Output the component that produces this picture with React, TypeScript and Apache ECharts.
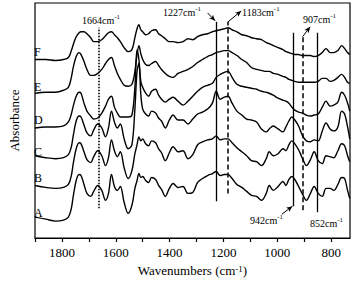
import React, { useEffect, useRef } from "react";
import * as echarts from "echarts";

// Wavenumber grid (cm-1), shared by all spectra
const wavenumbers = [
  1900, 1860, 1824, 1794, 1776, 1765, 1758, 1747, 1736, 1729,
  1718, 1707, 1693, 1682, 1667, 1652, 1638, 1627, 1616, 1605,
  1594, 1583, 1569, 1554, 1540, 1529, 1521, 1514, 1507, 1500,
  1489, 1478, 1467, 1452, 1441, 1430, 1416, 1401, 1387, 1369,
  1350, 1332, 1314, 1296, 1278, 1259, 1241, 1227, 1212, 1197,
  1183, 1168, 1150, 1132, 1114, 1096, 1077, 1059, 1041, 1030,
  1015, 997, 979, 968, 957, 946, 935, 921, 906, 892,
  877, 863, 848, 833, 819, 804, 790, 775, 761, 750,
  739, 731,
];

// Offset absorbance (arbitrary units) of each spectrum
const absA = [
  21, 19, 17, 18, 21, 30, 42, 58, 64, 63,
  54, 45, 42, 47, 53, 48, 38, 45, 64, 52,
  48, 52, 36, 25, 33, 50, 58, 65, 61, 62,
  58, 56, 61, 59, 53, 49, 42, 50, 55, 51,
  52, 45, 46, 56, 60, 63, 65, 67, 63, 64,
  64, 60, 54, 51, 47, 43, 42, 38, 45, 53,
  48, 52, 57, 53, 59, 62, 59, 52, 44, 38,
  45, 52, 45, 42, 50, 50, 48, 54, 61, 60,
  48, 40,
];
const absB = [
  53, 51, 50, 51, 54, 63, 75, 90, 96, 95,
  87, 79, 76, 82, 88, 83, 73, 81, 99, 88,
  82, 87, 71, 60, 68, 85, 94, 102, 98, 100,
  95, 93, 98, 96, 90, 86, 78, 86, 92, 87,
  88, 80, 84, 94, 97, 99, 100, 103, 99, 100,
  100, 96, 91, 87, 83, 78, 77, 73, 80, 87,
  83, 85, 90, 88, 94, 98, 95, 89, 80, 73,
  79, 87, 78, 75, 83, 82, 81, 88, 95, 93,
  83, 77,
];
const absC = [
  83, 81, 80, 81, 84, 92, 103, 118, 123, 122,
  114, 106, 103, 109, 115, 111, 102, 111, 128, 117,
  111, 115, 100, 90, 94, 130, 168, 176, 145, 130,
  125, 123, 128, 126, 121, 118, 111, 119, 124, 119,
  119, 115, 120, 125, 127, 130, 136, 148, 140, 142,
  143, 136, 128, 124, 120, 119, 117, 110, 107, 110,
  113, 110, 107, 112, 118, 122, 119, 113, 103, 98,
  97, 99, 98, 108, 116, 110, 108, 112, 128, 125,
  112, 100,
];
const absD = [
  111, 112, 112, 113, 117, 125, 133, 143, 147, 146,
  136, 128, 123, 120, 121, 126, 133, 140, 143, 132,
  126, 122, 122, 122, 124, 152, 190, 180, 158, 152,
  146, 143, 148, 150, 144, 140, 137, 140, 142, 138,
  134, 138, 143, 148, 152, 154, 156, 162, 165, 167,
  168, 162, 155, 153, 152, 151, 150, 148, 147, 146,
  144, 141, 139, 138, 136, 132, 129, 127, 126, 124,
  123, 124, 125, 132, 138, 133, 134, 137, 147, 144,
  136, 128,
];
const absE = [
  146, 147, 147, 149, 152, 162, 172, 183, 187, 185,
  178, 170, 164, 164, 166, 170, 176, 180, 182, 174,
  166, 160, 154, 153, 155, 168, 185, 194, 186, 180,
  175, 174, 176, 178, 174, 170, 166, 163, 162, 166,
  168, 170, 173, 177, 180, 183, 185, 187, 188, 189,
  189, 187, 184, 180, 177, 172, 170, 169, 168, 168,
  166, 165, 163, 162, 160, 159, 158, 157, 157, 157,
  157, 157, 158, 161, 161, 158, 159, 162, 165, 162,
  157, 156,
];
const absF = [
  180, 180, 179, 180, 182, 189, 195, 203, 207, 208,
  208, 206, 202, 198, 198, 200, 204, 207, 208, 205,
  202, 198, 192, 188, 190, 202, 211, 215, 210, 208,
  205, 206, 209, 210, 206, 204, 201, 198, 198, 197,
  198, 201, 200, 203, 205, 206, 208, 209, 210, 211,
  212, 210, 208, 205, 204, 202, 201, 200, 197, 196,
  194, 192, 190, 188, 187, 186, 185, 185, 184, 184,
  184, 183, 184, 187, 191, 187, 187, 189, 194, 191,
  187, 185,
];

const seriesNames = ["A", "B", "C", "D", "E", "F"];
const seriesValues = [absA, absB, absC, absD, absE, absF];
const tickLabelValues = [1800, 1600, 1400, 1200, 1000, 800];
const tickValues = [1900, 1800, 1700, 1600, 1500, 1400, 1300, 1200, 1100, 1000, 900, 800];

// Marked bands (cm-1)
const bandLines = [1664, 1227, 1183, 942, 907, 852];

const FONT = "'Liberation Serif', 'Times New Roman', serif";

export default function App() {
  const ref = useRef<HTMLDivElement>(null);

  useEffect(() => {
    const chart = echarts.init(ref.current!, null, { renderer: "svg" });

    const solid = { color: "#000", width: 1.3, type: "solid" as const };
    const dashed = { color: "#000", width: 1.5, type: [5, 3] };
    const dotted = { color: "#000", width: 1.6, type: [1.5, 1.5] };

    const vline = (wn: number, y1: number, y2: number, ls: any) => [
      { coord: [wn, y1], symbol: "none", lineStyle: ls },
      { coord: [wn, y2], symbol: "none", lineStyle: ls },
    ];
    const arrow = (x1: number, y1: number, x2: number, y2: number) => [
      { coord: [x1, y1], symbol: "none", lineStyle: { color: "#000", width: 1, type: "solid" } },
      { coord: [x2, y2], symbol: "arrow", symbolSize: [4, 6], lineStyle: { color: "#000", width: 1, type: "solid" } },
    ];

    const markLineData = [
      vline(bandLines[0], 30, 212, dotted),
      vline(bandLines[1], 37, 218, solid),
      vline(bandLines[2], 45, 218, dashed),
      vline(bandLines[3], 32, 207, solid),
      vline(bandLines[4], 28, 203, dashed),
      vline(bandLines[5], 26, 207, solid),
      arrow(1259, 227, 1231, 219),
      arrow(1183, 218, 1134, 229),
      arrow(906, 203, 878, 213),
      arrow(983, 24, 944, 32),
    ];

    const series = seriesNames.map((name, i) => ({
      name,
      type: "line",
      data: wavenumbers.map((w, j) => [w, seriesValues[i][j]]),
      smooth: 0.35,
      showSymbol: false,
      symbol: "none",
      lineStyle: { color: "#000", width: 1.4 },
      itemStyle: { color: "#000" },
      z: 3,
      ...(i === 0
        ? {
            markLine: {
              silent: true,
              symbol: "none",
              label: { show: false },
              animation: false,
              data: markLineData,
            },
          }
        : {}),
    }));

    const supRich = (size: number, base: number) => ({
      n: { fontFamily: FONT, fontSize: base, lineHeight: base + 3, fill: "#000", color: "#000" },
      sup: {
        fontFamily: FONT,
        fontSize: size,
        lineHeight: size + 1,
        verticalAlign: "top",
        fill: "#000",
        color: "#000",
      },
    });

    const annot = (text: string, x: number, y: number) => ({
      type: "text",
      x,
      y,
      silent: true,
      style: {
        text,
        fill: "#000",
        fontFamily: FONT,
        fontSize: 10,
        verticalAlign: "middle",
        rich: supRich(7, 10),
      },
    });

    const curveLabel = (text: string, x: number, y: number) => ({
      type: "text",
      x,
      y,
      silent: true,
      style: {
        text,
        fill: "#000",
        fontFamily: FONT,
        fontSize: 12,
        verticalAlign: "middle",
      },
    });

    chart.setOption({
      animation: false,
      backgroundColor: "#fff",
      textStyle: { fontFamily: FONT },
      grid: {
        left: 29,
        right: 3,
        top: 3,
        bottom: 42,
        show: true,
        borderColor: "#000",
        borderWidth: 1.2,
        backgroundColor: "transparent",
      },
      xAxis: {
        type: "value",
        inverse: true,
        min: 730,
        max: 1900,
        name: "Wavenumbers (cm{sup|-1})",
        nameLocation: "middle",
        nameGap: 26,
        nameTextStyle: {
          fontFamily: FONT,
          fontSize: 13,
          color: "#000",
          rich: {
            sup: { fontFamily: FONT, fontSize: 9, lineHeight: 9, verticalAlign: "top", color: "#000" },
          },
        },
        axisLine: { show: true, lineStyle: { color: "#000", width: 1.2 } },
        axisTick: {
          show: true,
          inside: false,
          length: 4,
          customValues: tickValues,
          lineStyle: { color: "#000", width: 1.2 },
        },
        axisLabel: {
          show: true,
          customValues: tickLabelValues,
          formatter: (v: number) => String(v),
          margin: 8,
          fontFamily: FONT,
          fontSize: 13,
          color: "#000",
        },
        splitLine: { show: false },
      },
      yAxis: {
        type: "value",
        min: 0,
        max: 237,
        name: "Absorbance",
        nameLocation: "middle",
        nameGap: 14,
        nameTextStyle: { fontFamily: FONT, fontSize: 13, color: "#000" },
        axisLine: { show: false },
        axisTick: { show: false },
        axisLabel: { show: false },
        splitLine: { show: false },
      },
      series,
      graphic: [
        annot("{n|1664cm}{sup|-1}", 82, 20),
        annot("{n|1227cm}{sup|-1}", 163, 12),
        annot("{n|1183cm}{sup|-1}", 242, 12),
        annot("{n|907cm}{sup|-1}", 303, 19),
        annot("{n|942cm}{sup|-1}", 250, 220),
        annot("{n|852cm}{sup|-1}", 310, 223),
        curveLabel("F", 34, 52),
        curveLabel("E", 34, 87),
        curveLabel("D", 34, 120),
        curveLabel("C", 34, 152),
        curveLabel("B", 34, 178),
        curveLabel("A", 34, 213),
      ],
    });

    return () => chart.dispose();
  }, []);

  return (
    <div
      ref={ref}
      style={{ position: "absolute", left: 0, top: 0, width: 353, height: 282, background: "#fff" }}
    />
  );
}
